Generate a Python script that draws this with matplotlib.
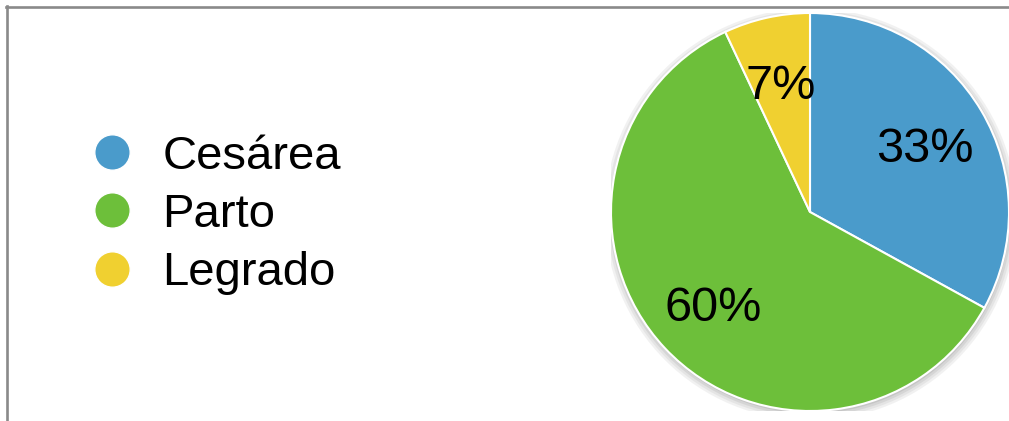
import matplotlib
matplotlib.use("Agg")
import matplotlib.pyplot as plt
from matplotlib.lines import Line2D
from matplotlib.patches import Circle

categories = ["Cesárea", "Parto", "Legrado"]
values = [33, 60, 7]
colors = ["#4A9BCB", "#6DBF3A", "#F0D030"]

plt.rcParams['font.family'] = ['Liberation Sans', 'DejaVu Sans']

W, H = 1009, 421
fig = plt.figure(figsize=(W / 100, H / 100), dpi=100)
fig.patch.set_facecolor("white")

# border lines (top and left)
fig.add_artist(Line2D([6 / W, 1], [1 - 6.5 / H, 1 - 6.5 / H], transform=fig.transFigure,
                      color="#8a8a8a", lw=1.9))
fig.add_artist(Line2D([6.5 / W, 6.5 / W], [0, 1 - 6 / H], transform=fig.transFigure,
                      color="#8a8a8a", lw=1.9))

cx, cy, r = 810, 209, 199
ax = fig.add_axes([(cx - r) / W, (cy - r) / H, 2 * r / W, 2 * r / H])
ax.set_xlim(-1, 1)
ax.set_ylim(-1, 1)
ax.set_aspect("equal")
ax.axis("off")

# soft shadow
for i, a in enumerate([0.08, 0.08, 0.1, 0.12]):
    ax.add_patch(Circle((0.004, -0.012), 1.0 + 0.012 * (3 - i), color="#555555", alpha=a,
                        lw=0, zorder=0))

wedges, texts, autotexts = ax.pie(
    values, colors=colors, startangle=90, counterclock=False, radius=1.0,
    autopct=lambda p: f"{p:.0f}%", pctdistance=0.67,
    wedgeprops=dict(edgecolor="white", linewidth=1.5),
    textprops=dict(fontsize=35, color="black"))
for w in wedges:
    w.set_zorder(2)
for t in autotexts:
    t.set_zorder(3)
    t.set_va("center_baseline")
ax.set_xlim(-1, 1)
ax.set_ylim(-1, 1)

handles = [Line2D([], [], marker="o", linestyle="none", markersize=25.5,
                  markerfacecolor=c, markeredgecolor="white", markeredgewidth=1)
           for c in colors]
fig.legend(handles, categories, loc="center left", bbox_to_anchor=(88.5 / W, 1 - 215 / H),
           frameon=False, fontsize=34, handlelength=1.0, handletextpad=0.56,
           labelspacing=0.30, borderpad=0, borderaxespad=0)

fig.savefig("out.png", dpi=100, facecolor="white")
